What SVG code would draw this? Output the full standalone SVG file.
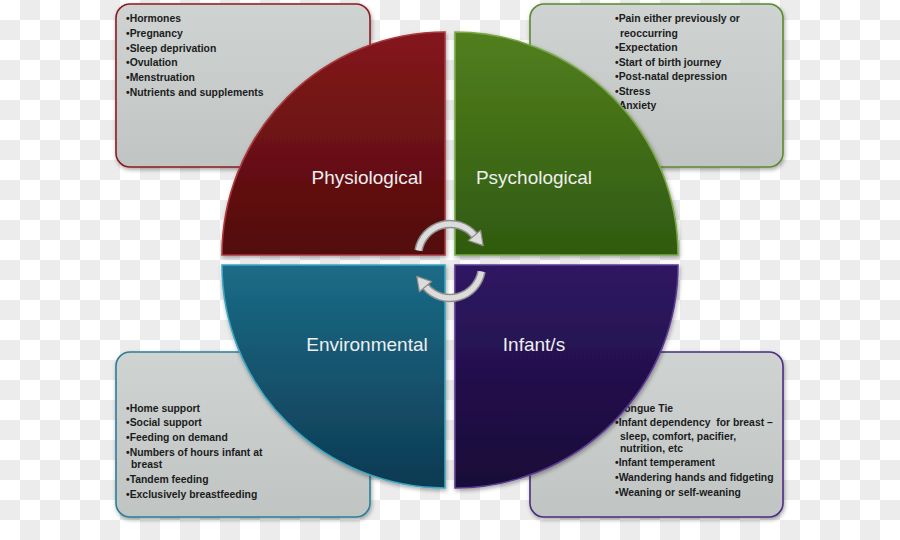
<svg xmlns="http://www.w3.org/2000/svg" width="900" height="540" viewBox="0 0 900 540">
<defs>
<pattern id="checker" width="40" height="40" patternUnits="userSpaceOnUse">
<rect width="40" height="40" fill="#ffffff"/>
<rect x="20" y="0" width="20" height="20" fill="#ececec"/>
<rect x="0" y="20" width="20" height="20" fill="#ececec"/>
</pattern>
<linearGradient id="boxFill" x1="0" y1="0" x2="0" y2="1">
<stop offset="0" stop-color="#cfd3d2"/>
<stop offset="1" stop-color="#c0c4c3"/>
</linearGradient>
<linearGradient id="gRed" x1="0" y1="0" x2="0" y2="1">
<stop offset="0" stop-color="#84191c"/>
<stop offset="1" stop-color="#520a0c"/>
</linearGradient>
<linearGradient id="gGreen" x1="0" y1="0" x2="0" y2="1">
<stop offset="0" stop-color="#527f1d"/>
<stop offset="1" stop-color="#2f5a10"/>
</linearGradient>
<linearGradient id="gTeal" x1="0" y1="0" x2="0" y2="1">
<stop offset="0" stop-color="#1b6c88"/>
<stop offset="1" stop-color="#0e3a52"/>
</linearGradient>
<linearGradient id="gPurple" x1="0" y1="0" x2="0" y2="1">
<stop offset="0" stop-color="#2f1763"/>
<stop offset="1" stop-color="#180937"/>
</linearGradient>
<filter id="shadow" x="-10%" y="-10%" width="120%" height="125%">
<feDropShadow dx="1" dy="2" stdDeviation="2" flood-color="#000" flood-opacity="0.35"/>
</filter>
</defs>
<style>
.box { fill: url(#boxFill); stroke-width: 1.6; filter: url(#shadow); }
.items { font-family: "Liberation Sans", Arial, sans-serif; font-size: 10.4px; font-weight: bold; fill: #1c1c1c; white-space: pre; }
.quad { stroke-width: 1.6; filter: url(#shadow); }
.label { font-family: "Liberation Sans", Arial, sans-serif; font-size: 19px; fill: #eeeeee; text-anchor: middle; }
.arrowOut { fill: none; stroke: #8e8e8e; stroke-width: 8.5; }
.arrowIn { fill: none; stroke: #dcdcdc; stroke-width: 5.5; }
.head { fill: #dcdcdc; stroke: #8e8e8e; stroke-width: 1.2; stroke-linejoin: round; }
</style>
<rect width="900" height="540" fill="url(#checker)"/>

<g id="box-physiological">
<rect class="box" x="116" y="4" width="254" height="163" rx="14" stroke="#8b1d22"/>
<text class="items">
<tspan x="126" y="22">•Hormones</tspan>
<tspan x="126" y="37">•Pregnancy</tspan>
<tspan x="126" y="52">•Sleep deprivation</tspan>
<tspan x="126" y="66">•Ovulation</tspan>
<tspan x="126" y="81">•Menstruation</tspan>
<tspan x="126" y="96">•Nutrients and supplements</tspan>
</text>
</g>

<g id="box-psychological">
<rect class="box" x="530" y="4" width="253" height="163" rx="14" stroke="#5b8a2e"/>
<text class="items">
<tspan x="615" y="22">•Pain either previously or</tspan>
<tspan x="620" y="36.5">reoccurring</tspan>
<tspan x="615" y="51">•Expectation</tspan>
<tspan x="615" y="65.5">•Start of birth journey</tspan>
<tspan x="615" y="80">•Post-natal depression</tspan>
<tspan x="615" y="94.5">•Stress</tspan>
<tspan x="615" y="109">•Anxiety</tspan>
</text>
</g>

<g id="box-environmental">
<rect class="box" x="116" y="352" width="254" height="165" rx="14" stroke="#2a7f98"/>
<text class="items">
<tspan x="126" y="412">•Home support</tspan>
<tspan x="126" y="426">•Social support</tspan>
<tspan x="126" y="441">•Feeding on demand</tspan>
<tspan x="126" y="456">•Numbers of hours infant at</tspan>
<tspan x="131" y="468">breast</tspan>
<tspan x="126" y="483">•Tandem feeding</tspan>
<tspan x="126" y="498">•Exclusively breastfeeding</tspan>
</text>
</g>

<g id="box-infants">
<rect class="box" x="530" y="352" width="253" height="165" rx="14" stroke="#4b2d7f"/>
<text class="items">
<tspan x="615" y="411.5">•Tongue Tie</tspan>
<tspan x="615" y="426">•Infant dependency  for breast –</tspan>
<tspan x="620" y="439.5">sleep, comfort, pacifier,</tspan>
<tspan x="620" y="451.5">nutrition, etc</tspan>
<tspan x="615" y="466">•Infant temperament</tspan>
<tspan x="615" y="481">•Wandering hands and fidgeting</tspan>
<tspan x="615" y="495.5">•Weaning or self-weaning</tspan>
</text>
</g>

<g id="physiological">
<path class="quad" d="M445 255 L222 255 A223 223 0 0 1 445 32 Z" fill="url(#gRed)" stroke="#a8383c"/>
<text class="label" x="367" y="184">Physiological</text>
</g>

<g id="psychological">
<path class="quad" d="M455 255 L455 32 A223 223 0 0 1 678 255 Z" fill="url(#gGreen)" stroke="#7aa848"/>
<text class="label" x="534" y="184">Psychological</text>
</g>

<g id="environmental">
<path class="quad" d="M445 265 L445 488 A223 223 0 0 1 222 265 Z" fill="url(#gTeal)" stroke="#3fa6c0"/>
<text class="label" x="367" y="351">Environmental</text>
</g>

<g id="infants">
<path class="quad" d="M455 265 L678 265 A223 223 0 0 1 455 488 Z" fill="url(#gPurple)" stroke="#5a3a92"/>
<text class="label" x="534" y="351">Infant/s</text>
</g>

<g id="connectors">
<path class="arrowOut" d="M418.5 250.4 A32 32 0 0 1 474.5 235.4"/>
<path class="arrowIn" d="M418.5 250.4 A32 32 0 0 1 474.5 235.4"/>
<polygon class="head" points="480.6,230.3 483.2,245.6 468.4,240.5"/>
<path class="arrowOut" d="M481.5 271.6 A32 32 0 0 1 425.5 286.6"/>
<path class="arrowIn" d="M481.5 271.6 A32 32 0 0 1 425.5 286.6"/>
<polygon class="head" points="419.4,291.7 416.8,276.4 431.6,281.5"/>
</g>
</svg>
